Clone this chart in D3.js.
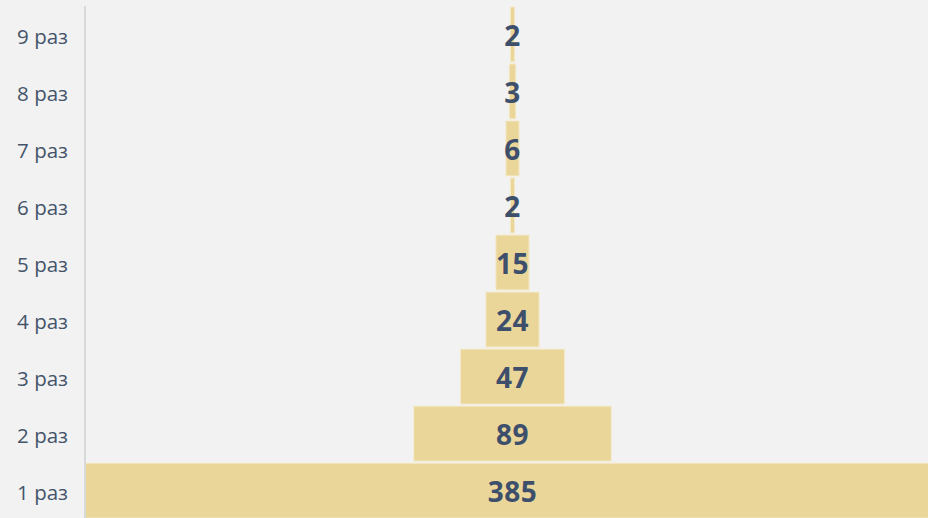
<!DOCTYPE html>
<html>
<head>
<meta charset="utf-8">
<script src="https://cdn.jsdelivr.net/npm/d3@7"></script>
<style>
  html, body { margin: 0; padding: 0; background: #f2f2f2; overflow: hidden; }
  svg { display: block; }
</style>
</head>
<body>
<svg id="chart" width="928" height="518"></svg>
<script>
var categories = ["1 раз", "2 раз", "3 раз", "4 раз", "5 раз", "6 раз", "7 раз", "8 раз", "9 раз"];
var values = [385, 89, 47, 24, 15, 2, 6, 3, 2];

var svg = d3.select("#chart"),
    plotLeft = 85,          // axis position
    plotRight = 940,        // plot extends past the window, the widest bar is cut
    plotTop = 6,
    plotBottom = 519,
    center = (plotLeft + plotRight) / 2,
    labelColor = "#44546a";

var rows = categories.map(function (c, i) { return { cat: c, value: values[i] }; });

var y = d3.scaleBand()
    .domain(categories.slice().reverse()) // 9 on top, 1 at the bottom
    .range([plotTop, plotBottom])
    .paddingInner(0.035)
    .paddingOuter(0.015);

var x = d3.scaleLinear()
    .domain([0, d3.max(values)])
    .range([0, plotRight - plotLeft]);

svg.append("rect")
    .attr("width", 928).attr("height", 518)
    .attr("fill", "#f2f2f2");

// bars, centred on the plot
svg.append("g").selectAll("rect")
    .data(rows)
    .join("rect")
    .attr("x", function (d) { return center - x(d.value) / 2; })
    .attr("y", function (d) { return y(d.cat); })
    .attr("width", function (d) { return x(d.value); })
    .attr("height", y.bandwidth())
    .attr("fill", "#ebd69a")
    .attr("stroke", "#f4ecd2")
    .attr("stroke-width", 1);

// value labels
svg.append("g").selectAll("text")
    .data(rows)
    .join("text")
    .attr("x", center)
    .attr("y", function (d) { return y(d.cat) + y.bandwidth() / 2; })
    .attr("dy", "0.4em")
    .attr("text-anchor", "middle")
    .attr("font-family", "'Open Sans', 'Noto Sans', sans-serif")
    .attr("font-weight", "bold")
    .attr("font-size", 28)
    .attr("letter-spacing", 0.5)
    .attr("fill", "#3d4f6b")
    .text(function (d) { return d.value; });

// category axis
var axis = svg.append("g")
    .attr("transform", "translate(" + plotLeft + ",0)")
    .call(d3.axisLeft(y).tickSize(0).tickPadding(17));

axis.select(".domain")
    .attr("stroke", "#d9d9d9")
    .attr("stroke-width", 2)
    .attr("d", "M0," + plotTop + "V518");

axis.selectAll("text")
    .attr("dy", "0.45em")
    .attr("font-family", "'Open Sans', 'Noto Sans', sans-serif")
    .attr("font-size", 20.5)
    .attr("fill", labelColor);
</script>
</body>
</html>
